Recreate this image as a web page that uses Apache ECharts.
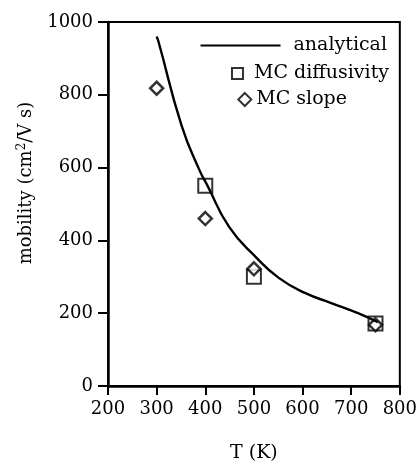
<!DOCTYPE html>
<html>
<head>
<meta charset="utf-8">
<script src="https://cdn.jsdelivr.net/npm/echarts@6/dist/echarts.min.js"></script>
<style>html,body{margin:0;padding:0;background:#fff}#c{width:420px;height:471px}</style>
</head>
<body>
<div id="c"></div>
<script>
const analyticalT = [300, 304, 351, 388, 404, 449, 504, 551, 606, 659, 714, 755];
const analyticalMu = [960, 945, 717, 593, 552, 437, 354, 297, 255, 228, 200, 175];
const diffT = [400, 500, 750];
const diffMu = [550, 300, 172];
const slopeT = [300, 400, 500, 750];
const slopeMu = [818, 460, 322, 168];
const xTicks = [200, 300, 400, 500, 600, 700, 800];
const yTicks = [0, 200, 400, 600, 800, 1000];

const FONT = 'DejaVu Serif';
const chart = echarts.init(document.getElementById('c'), null, {renderer: 'canvas'});
const legendBase = {
  orient: 'vertical', itemGap: 0,
  textStyle: {fontFamily: FONT, fontSize: 19, color: '#000'},
  inactiveColor: '#000', selectedMode: false
};
chart.setOption({
  animation: false,
  backgroundColor: '#fff',
  grid: {left: 108, top: 22, right: 17, bottom: 85, show: true, borderColor: '#000', borderWidth: 2},
  legend: [
    Object.assign({}, legendBase, {data: [{name: 'analytical', icon: 'rect'}], right: 28, top: 31, itemWidth: 80, itemHeight: 2,
      textStyle: Object.assign({}, legendBase.textStyle, {padding: [0, 0, 0, 8]})}),
    Object.assign({}, legendBase, {data: [{name: 'MC diffusivity'}], right: 26, top: 59, itemWidth: 11, itemHeight: 11,
      textStyle: Object.assign({}, legendBase.textStyle, {padding: [0, 0, 0, 6]})}),
    Object.assign({}, legendBase, {data: [{name: 'MC slope'}], right: 68, top: 85, itemWidth: 13, itemHeight: 13})
  ],
  xAxis: {
    type: 'value', min: 200, max: 800, interval: 100,
    name: 'T (K)', nameLocation: 'middle', nameGap: 58,
    nameTextStyle: {fontFamily: FONT, fontSize: 19, color: '#000'},
    axisLine: {lineStyle: {color: '#000', width: 2.5}},
    axisTick: {length: 9, lineStyle: {color: '#000', width: 2}},
    axisLabel: {fontFamily: FONT, fontSize: 18, color: '#000', margin: 14,
      formatter: v => xTicks.includes(v) ? String(v) : ''},
    splitLine: {show: false}
  },
  yAxis: {
    type: 'value', min: 0, max: 1000, interval: 200,
    name: 'mobility (cm{sup|2}/V s)', nameLocation: 'middle', nameGap: 72,
    nameTextStyle: {fontFamily: FONT, fontSize: 18, color: '#000', padding: [0, 0, 0, 42],
      rich: {sup: {fontFamily: FONT, fontSize: 12, color: '#000', verticalAlign: 'top', padding: [0, 0, 8, 0]}}},
    axisLine: {lineStyle: {color: '#000', width: 2.5}},
    axisTick: {length: 10, lineStyle: {color: '#000', width: 2}},
    axisLabel: {fontFamily: FONT, fontSize: 18, color: '#000', margin: 15,
      formatter: v => yTicks.includes(v) ? String(v) : ''},
    splitLine: {show: false}
  },
  series: [
    {name: 'analytical', type: 'line', smooth: 0.5, showSymbol: false, symbol: 'none',
      data: analyticalT.map((t, i) => [t, analyticalMu[i]]),
      lineStyle: {color: '#000', width: 2.4}, itemStyle: {color: '#000'}},
    {name: 'MC diffusivity', type: 'scatter', symbol: 'rect', symbolSize: 14,
      data: diffT.map((t, i) => [t, diffMu[i]]),
      itemStyle: {color: '#fff', borderColor: '#000', borderWidth: 2}},
    {name: 'MC slope', type: 'scatter', symbol: 'diamond', symbolSize: 13,
      data: slopeT.map((t, i) => [t, slopeMu[i]]),
      itemStyle: {color: '#fff', borderColor: '#000', borderWidth: 2.5}}
  ]
});
</script>
</body>
</html>
